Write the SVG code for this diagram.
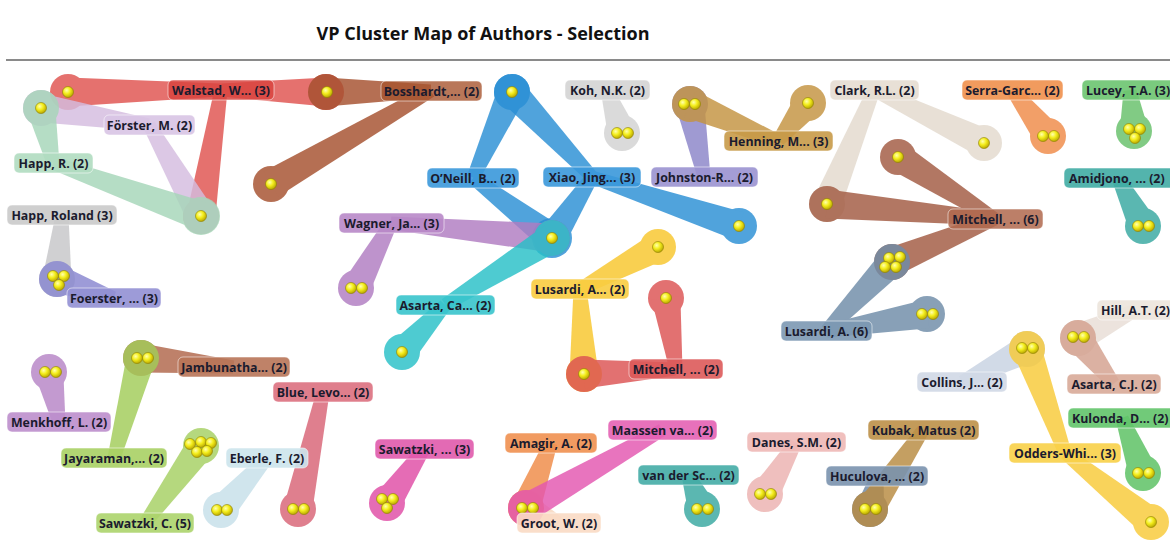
<svg xmlns="http://www.w3.org/2000/svg" width="1170" height="548" viewBox="0 0 1170 548">
<defs>
<style>
.lt{font-family:"Open Sans","Liberation Sans",sans-serif;font-weight:700;font-size:12.4px;fill:#1b1b2e;text-anchor:middle}
.ls{text-anchor:start}
.lr{stroke:#ffffff;stroke-opacity:.55;stroke-width:1}
.cl{opacity:.82}
.dot{fill:url(#yg);stroke:#8d7f00;stroke-width:.6}
.title{font-family:"Open Sans","Liberation Sans",sans-serif;font-weight:700;font-size:18px;fill:#111;text-anchor:middle}
</style>
<radialGradient id="yg" cx=".38" cy=".35" r=".7">
<stop offset="0" stop-color="#ffffb0"/>
<stop offset=".45" stop-color="#f4ee1c"/>
<stop offset="1" stop-color="#b4a000"/>
</radialGradient>
<polygon id="b" points="0,-14.5 1,-6.5 1,6.5 0,14.5"/>
</defs>
<rect width="1170" height="548" fill="#ffffff"/>
<text class="title" x="483" y="40">VP Cluster Map of Authors - Selection</text>
<line x1="6" y1="60" x2="1170" y2="60" stroke="#8a8a8a" stroke-width="2"/>

<g id="connectors">
<g class="cl" fill="#e0534f"><circle cx="68" cy="92" r="18"/><circle cx="326" cy="92" r="18"/><circle cx="201" cy="216" r="18"/>
<use href="#b" transform="translate(68 92) rotate(-0.75) scale(153 1)"/><use href="#b" transform="translate(326 92) rotate(181.1) scale(105 1)"/><use href="#b" transform="translate(201 216) rotate(-81) scale(128 1)"/></g>
<g class="cl" fill="#a5502e"><circle cx="326" cy="92" r="18"/><circle cx="271" cy="184" r="18"/>
<use href="#b" transform="translate(326 92) rotate(-0.5) scale(105 1)"/><use href="#b" transform="translate(271 184) rotate(-30.2) scale(185 1)"/></g>
<g class="cl" fill="#d5bde0"><circle cx="41" cy="108" r="18"/><circle cx="201" cy="216" r="18"/>
<use href="#b" transform="translate(41 108) rotate(8.9) scale(109 1)"/><use href="#b" transform="translate(201 216) rotate(-119.7) scale(105 1)"/></g>
<g class="cl" fill="#a6d6b9"><circle cx="41" cy="108" r="18"/><circle cx="201" cy="216" r="19"/>
<use href="#b" transform="translate(41 108) rotate(77.7) scale(56 1)"/><use href="#b" transform="translate(201 216) rotate(-160.3) scale(157 1)"/></g>
<g class="cl" fill="#2a8fd5"><circle cx="512" cy="92" r="18"/><circle cx="552" cy="238" r="18"/>
<use href="#b" transform="translate(512 92) rotate(114.4) scale(94 1)"/><use href="#b" transform="translate(552 238) rotate(-142.8) scale(99 1)"/></g>
<g class="cl" fill="#2a8fd5"><circle cx="512" cy="92" r="18"/><circle cx="552" cy="238" r="20"/><circle cx="739" cy="226" r="18"/>
<use href="#b" transform="translate(512 92) rotate(46.7) scale(117 1)"/><use href="#b" transform="translate(552 238) rotate(-56.7) scale(73 1)"/><use href="#b" transform="translate(739 226) rotate(-161.6) scale(155 1)"/></g>
<g class="cl" fill="#b07cc2"><circle cx="356" cy="288" r="18"/><circle cx="552" cy="238" r="18"/>
<use href="#b" transform="translate(356 288) rotate(-61.7) scale(74 1)"/><use href="#b" transform="translate(552 238) rotate(-174.7) scale(162 1)"/></g>
<g class="cl" fill="#28c0c8"><circle cx="402" cy="352" r="18"/><circle cx="552" cy="238" r="18"/>
<use href="#b" transform="translate(402 352) rotate(-47.5) scale(64 1)"/><use href="#b" transform="translate(552 238) rotate(148) scale(126 1)"/></g>
<g class="cl" fill="#d2d2d2"><circle cx="622" cy="133" r="18"/>
<use href="#b" transform="translate(622 133) rotate(-109.2) scale(45 1)"/></g>
<g class="cl" fill="#8b84c9"><circle cx="690" cy="104" r="18"/>
<use href="#b" transform="translate(690 104) rotate(79.1) scale(74 1)"/></g>
<g class="cl" fill="#c49340"><circle cx="690" cy="104" r="18"/><circle cx="808" cy="103" r="18"/>
<use href="#b" transform="translate(690 104) rotate(22.8) scale(95 1)"/><use href="#b" transform="translate(808 103) rotate(128.3) scale(48 1)"/></g>
<g class="cl" fill="#e3dace"><circle cx="984" cy="143" r="18"/><circle cx="827" cy="204" r="18"/>
<use href="#b" transform="translate(984 143) rotate(-154.3) scale(122 1)"/><use href="#b" transform="translate(827 204) rotate(-67.6) scale(123 1)"/></g>
<g class="cl" fill="#a25a42"><circle cx="898" cy="157" r="18"/><circle cx="827" cy="204" r="18"/><circle cx="892" cy="262" r="18"/>
<use href="#b" transform="translate(898 157) rotate(32.6) scale(115 1)"/><use href="#b" transform="translate(827 204) rotate(5.1) scale(169 1)"/><use href="#b" transform="translate(892 262) rotate(-22.7) scale(112 1)"/></g>
<g class="cl" fill="#6e8ca8"><circle cx="892" cy="262" r="18"/><circle cx="927" cy="314" r="18"/>
<use href="#b" transform="translate(892 262) rotate(133.7) scale(95 1)"/><use href="#b" transform="translate(927 314) rotate(170.4) scale(102 1)"/></g>
<g class="cl" fill="#f08a48"><circle cx="1048" cy="136" r="18"/>
<use href="#b" transform="translate(1048 136) rotate(-128) scale(58 1)"/></g>
<g class="cl" fill="#66c06a"><circle cx="1134" cy="131" r="18"/>
<use href="#b" transform="translate(1134 131) rotate(-95.6) scale(41 1)"/></g>
<g class="cl" fill="#36a8a0"><circle cx="1143" cy="226" r="18"/>
<use href="#b" transform="translate(1143 226) rotate(-117.5) scale(54 1)"/></g>
<g class="cl" fill="#c6c6c9"><circle cx="57" cy="279" r="18"/>
<use href="#b" transform="translate(57 279) rotate(-85.5) scale(64 1)"/></g>
<g class="cl" fill="#8886d0"><circle cx="57" cy="279" r="18"/>
<use href="#b" transform="translate(57 279) rotate(18.4) scale(60 1)"/></g>
<g class="cl" fill="#f8c62c"><circle cx="658" cy="247" r="18"/><circle cx="584" cy="374" r="18"/>
<use href="#b" transform="translate(658 247) rotate(151.7) scale(89 1)"/><use href="#b" transform="translate(584 374) rotate(-92.7) scale(85 1)"/></g>
<g class="cl" fill="#dc5252"><circle cx="666" cy="298" r="18"/><circle cx="584" cy="374" r="18"/>
<use href="#b" transform="translate(666 298) rotate(82) scale(72 1)"/><use href="#b" transform="translate(584 374) rotate(-3.1) scale(92 1)"/></g>
<g class="cl" fill="#b684c6"><circle cx="49" cy="372" r="18"/>
<use href="#b" transform="translate(49 372) rotate(78.7) scale(51 1)"/></g>
<g class="cl" fill="#b0664a"><circle cx="141" cy="358" r="18"/>
<use href="#b" transform="translate(141 358) rotate(5.5) scale(93 1)"/></g>
<g class="cl" fill="#a2cc58"><circle cx="141" cy="358" r="18"/>
<use href="#b" transform="translate(141 358) rotate(105.1) scale(104 1)"/></g>
<g class="cl" fill="#a6d062"><circle cx="201" cy="446" r="18"/>
<use href="#b" transform="translate(201 446) rotate(126) scale(95 1)"/></g>
<g class="cl" fill="#c6e0ea"><circle cx="221" cy="510" r="18"/>
<use href="#b" transform="translate(221 510) rotate(-48.5) scale(69 1)"/></g>
<g class="cl" fill="#d86476"><circle cx="298" cy="509" r="18"/>
<use href="#b" transform="translate(298 509) rotate(-77.9) scale(120 1)"/></g>
<g class="cl" fill="#e04ca6"><circle cx="387" cy="503" r="18"/>
<use href="#b" transform="translate(387 503) rotate(-55.6) scale(65 1)"/></g>
<g class="cl" fill="#f8d6bc"><circle cx="526" cy="508" r="18"/>
<use href="#b" transform="translate(526 508) rotate(24.4) scale(36 1)"/></g>
<g class="cl" fill="#f08a46"><circle cx="526" cy="508" r="18"/>
<use href="#b" transform="translate(526 508) rotate(-69) scale(70 1)"/></g>
<g class="cl" fill="#e456b0"><circle cx="526" cy="508" r="18"/>
<use href="#b" transform="translate(526 508) rotate(-29.8) scale(157 1)"/></g>
<g class="cl" fill="#38a8a0"><circle cx="702" cy="509" r="18"/>
<use href="#b" transform="translate(702 509) rotate(-112.4) scale(37 1)"/></g>
<g class="cl" fill="#ecb2b0"><circle cx="765" cy="494" r="18"/>
<use href="#b" transform="translate(765 494) rotate(-59.2) scale(60 1)"/></g>
<g class="cl" fill="#6e88a6"><circle cx="870" cy="509" r="18"/>
<use href="#b" transform="translate(870 509) rotate(-78) scale(34 1)"/></g>
<g class="cl" fill="#b88a40"><circle cx="870" cy="509" r="18"/>
<use href="#b" transform="translate(870 509) rotate(-56.1) scale(95 1)"/></g>
<g class="cl" fill="#c8d2e2"><circle cx="1027" cy="349" r="18"/>
<use href="#b" transform="translate(1027 349) rotate(153.1) scale(73 1)"/></g>
<g class="cl" fill="#f8ca38"><circle cx="1027" cy="349" r="18"/><circle cx="1151" cy="522" r="18"/>
<use href="#b" transform="translate(1027 349) rotate(69.9) scale(111 1)"/><use href="#b" transform="translate(1151 522) rotate(-141.3) scale(110 1)"/></g>
<g class="cl" fill="#e8ded6"><circle cx="1078" cy="338" r="18"/>
<use href="#b" transform="translate(1078 338) rotate(-25.8) scale(64 1)"/></g>
<g class="cl" fill="#d4a08e"><circle cx="1078" cy="338" r="18"/>
<use href="#b" transform="translate(1078 338) rotate(51.9) scale(58 1)"/></g>
<g class="cl" fill="#58c060"><circle cx="1143" cy="473" r="18"/>
<use href="#b" transform="translate(1143 473) rotate(-110.9) scale(59 1)"/></g>
</g>

<g id="documents">
<g id="d1"><circle class="dot" cx="68" cy="92" r="5.5"/></g>
<g id="d2"><circle class="dot" cx="41" cy="108" r="5.5"/></g>
<g id="d3"><circle class="dot" cx="201" cy="216" r="5.5"/></g>
<g id="d4"><circle class="dot" cx="327" cy="92" r="5.5"/></g>
<g id="d5"><circle class="dot" cx="271" cy="184" r="5.5"/></g>
<g id="d6"><circle class="dot" cx="512" cy="92" r="5.5"/></g>
<g id="d7"><circle class="dot" cx="552" cy="238" r="5.5"/></g>
<g id="d8"><circle class="dot" cx="739" cy="226" r="5.5"/></g>
<g id="d9"><circle class="dot" cx="617" cy="133" r="5.5"/><circle class="dot" cx="628" cy="133" r="5.5"/></g>
<g id="d10"><circle class="dot" cx="684" cy="104" r="5.5"/><circle class="dot" cx="695" cy="104" r="5.5"/></g>
<g id="d11"><circle class="dot" cx="808" cy="103" r="5.5"/></g>
<g id="d12"><circle class="dot" cx="984" cy="143" r="5.5"/></g>
<g id="d13"><circle class="dot" cx="898" cy="157" r="5.5"/></g>
<g id="d14"><circle class="dot" cx="827" cy="204" r="5.5"/></g>
<g id="d15"><circle class="dot" cx="889" cy="258" r="5.5"/><circle class="dot" cx="900" cy="257" r="5.5"/><circle class="dot" cx="885" cy="267" r="5.5"/><circle class="dot" cx="896" cy="267" r="5.5"/></g>
<g id="d16"><circle class="dot" cx="922" cy="314" r="5.5"/><circle class="dot" cx="933" cy="314" r="5.5"/></g>
<g id="d17"><circle class="dot" cx="1043" cy="136" r="5.5"/><circle class="dot" cx="1054" cy="136" r="5.5"/></g>
<g id="d18"><circle class="dot" cx="1129" cy="129" r="5.5"/><circle class="dot" cx="1140" cy="129" r="5.5"/><circle class="dot" cx="1135" cy="138" r="5.5"/></g>
<g id="d19"><circle class="dot" cx="1138" cy="226" r="5.5"/><circle class="dot" cx="1149" cy="226" r="5.5"/></g>
<g id="d20"><circle class="dot" cx="53" cy="276" r="5.5"/><circle class="dot" cx="64" cy="276" r="5.5"/><circle class="dot" cx="59" cy="285" r="5.5"/></g>
<g id="d21"><circle class="dot" cx="351" cy="288" r="5.5"/><circle class="dot" cx="362" cy="288" r="5.5"/></g>
<g id="d22"><circle class="dot" cx="402" cy="352" r="5.5"/></g>
<g id="d23"><circle class="dot" cx="658" cy="247" r="5.5"/></g>
<g id="d24"><circle class="dot" cx="666" cy="298" r="5.5"/></g>
<g id="d25"><circle class="dot" cx="584" cy="374" r="5.5"/></g>
<g id="d26"><circle class="dot" cx="45" cy="372" r="5.5"/><circle class="dot" cx="56" cy="372" r="5.5"/></g>
<g id="d27"><circle class="dot" cx="137" cy="358" r="5.5"/><circle class="dot" cx="148" cy="358" r="5.5"/></g>
<g id="d28"><circle class="dot" cx="190" cy="444" r="5.5"/><circle class="dot" cx="201" cy="442" r="5.5"/><circle class="dot" cx="211" cy="443" r="5.5"/><circle class="dot" cx="197" cy="452" r="5.5"/><circle class="dot" cx="207" cy="451" r="5.5"/></g>
<g id="d29"><circle class="dot" cx="217" cy="510" r="5.5"/><circle class="dot" cx="227" cy="510" r="5.5"/></g>
<g id="d30"><circle class="dot" cx="293" cy="509" r="5.5"/><circle class="dot" cx="304" cy="509" r="5.5"/></g>
<g id="d31"><circle class="dot" cx="382" cy="499" r="5.5"/><circle class="dot" cx="393" cy="499" r="5.5"/><circle class="dot" cx="387" cy="508" r="5.5"/></g>
<g id="d32"><circle class="dot" cx="522" cy="508" r="5.5"/><circle class="dot" cx="533" cy="508" r="5.5"/></g>
<g id="d33"><circle class="dot" cx="697" cy="509" r="5.5"/><circle class="dot" cx="708" cy="509" r="5.5"/></g>
<g id="d34"><circle class="dot" cx="760" cy="494" r="5.5"/><circle class="dot" cx="771" cy="494" r="5.5"/></g>
<g id="d35"><circle class="dot" cx="865" cy="509" r="5.5"/><circle class="dot" cx="876" cy="509" r="5.5"/></g>
<g id="d36"><circle class="dot" cx="1022" cy="348" r="5.5"/><circle class="dot" cx="1033" cy="348" r="5.5"/></g>
<g id="d37"><circle class="dot" cx="1073" cy="337" r="5.5"/><circle class="dot" cx="1084" cy="337" r="5.5"/></g>
<g id="d38"><circle class="dot" cx="1138" cy="473" r="5.5"/><circle class="dot" cx="1149" cy="473" r="5.5"/></g>
<g id="d39"><circle class="dot" cx="1151" cy="522" r="5.5"/></g>
</g>

<g id="labels">
<g id="n-walstad"><rect class="lr" x="168" y="80" width="106" height="20" rx="5" fill="#d9443f" fill-opacity=".85"/><text class="lt" x="221" y="94.5">Walstad, W... (3)</text></g>
<g id="n-bosshardt"><rect class="lr" x="381" y="81" width="101" height="20" rx="5" fill="#a8552f" fill-opacity=".8"/><text class="lt" x="431.5" y="95.5">Bosshardt,... (2)</text></g>
<g id="n-koh"><rect class="lr" x="565" y="80" width="85" height="20" rx="5" fill="#d4d4d4" fill-opacity=".9"/><text class="lt" x="607.5" y="94.5">Koh, N.K. (2)</text></g>
<g id="n-clark"><rect class="lr" x="830" y="80" width="89" height="20" rx="5" fill="#e6ddd2" fill-opacity=".9"/><text class="lt" x="874.5" y="94.5">Clark, R.L. (2)</text></g>
<g id="n-serra"><rect class="lr" x="962" y="80" width="101" height="20" rx="5" fill="#f0904c" fill-opacity=".9"/><text class="lt" x="1012.5" y="94.5">Serra-Garc... (2)</text></g>
<g id="n-lucey"><rect class="lr" x="1082" y="80" width="94" height="20" rx="5" fill="#6cc470" fill-opacity=".9"/><text class="lt ls" x="1086" y="94.5">Lucey, T.A. (3)</text></g>
<g id="n-forster"><rect class="lr" x="104" y="115" width="91" height="20" rx="5" fill="#d8c4e4" fill-opacity=".9"/><text class="lt" x="149.5" y="129.5">Förster, M. (2)</text></g>
<g id="n-happr"><rect class="lr" x="14" y="153" width="79" height="20" rx="5" fill="#b0dcc0" fill-opacity=".9"/><text class="lt" x="53.5" y="167.5">Happ, R. (2)</text></g>
<g id="n-henning"><rect class="lr" x="724" y="131" width="109" height="20" rx="5" fill="#c89a48" fill-opacity=".9"/><text class="lt" x="778.5" y="145.5">Henning, M... (3)</text></g>
<g id="n-oneill"><rect class="lr" x="427" y="168" width="92" height="20" rx="5" fill="#3a98da" fill-opacity=".9"/><text class="lt" x="473" y="182.5">O’Neill, B... (2)</text></g>
<g id="n-xiao"><rect class="lr" x="543" y="167" width="98" height="20" rx="5" fill="#3a98da" fill-opacity=".9"/><text class="lt" x="592" y="181.5">Xiao, Jing... (3)</text></g>
<g id="n-johnston"><rect class="lr" x="651" y="167" width="107" height="20" rx="5" fill="#9a92d0" fill-opacity=".9"/><text class="lt" x="704.5" y="181.5">Johnston-R... (2)</text></g>
<g id="n-amidjono"><rect class="lr" x="1064" y="168" width="112" height="20" rx="5" fill="#40aca4" fill-opacity=".9"/><text class="lt ls" x="1069" y="182.5">Amidjono, ... (2)</text></g>
<g id="n-happroland"><rect class="lr" x="7" y="205" width="110" height="20" rx="5" fill="#cacaca" fill-opacity=".9"/><text class="lt" x="62" y="219.5">Happ, Roland (3)</text></g>
<g id="n-wagner"><rect class="lr" x="339" y="213" width="105" height="20" rx="5" fill="#b888c8" fill-opacity=".9"/><text class="lt" x="391.5" y="227.5">Wagner, Ja... (3)</text></g>
<g id="n-mitchell6"><rect class="lr" x="948" y="209" width="95" height="20" rx="5" fill="#b0684e" fill-opacity=".85"/><text class="lt" x="995.5" y="223.5">Mitchell, ... (6)</text></g>
<g id="n-lusardi2"><rect class="lr" x="531" y="279" width="98" height="20" rx="5" fill="#f8cc40" fill-opacity=".9"/><text class="lt" x="580" y="293.5">Lusardi, A... (2)</text></g>
<g id="n-foerster"><rect class="lr" x="67" y="288" width="94" height="20" rx="5" fill="#9290d4" fill-opacity=".9"/><text class="lt" x="114" y="302.5">Foerster, ... (3)</text></g>
<g id="n-asartaca"><rect class="lr" x="396" y="295" width="99" height="20" rx="5" fill="#38c4cc" fill-opacity=".9"/><text class="lt" x="445.5" y="309.5">Asarta, Ca... (2)</text></g>
<g id="n-lusardi6"><rect class="lr" x="781" y="321" width="91" height="20" rx="5" fill="#7c98b2" fill-opacity=".9"/><text class="lt" x="826.5" y="335.5">Lusardi, A. (6)</text></g>
<g id="n-hill"><rect class="lr" x="1097" y="300" width="79" height="20" rx="5" fill="#ece4dc" fill-opacity=".9"/><text class="lt ls" x="1101" y="314.5">Hill, A.T. (2)</text></g>
<g id="n-jambunatha"><rect class="lr" x="178" y="357" width="112" height="20" rx="5" fill="#b87458" fill-opacity=".9"/><text class="lt" x="234" y="371.5">Jambunatha... (2)</text></g>
<g id="n-bluelevo"><rect class="lr" x="273" y="382" width="100" height="20" rx="5" fill="#dc7080" fill-opacity=".9"/><text class="lt" x="323" y="396.5">Blue, Levo... (2)</text></g>
<g id="n-mitchell2"><rect class="lr" x="629" y="359" width="94" height="20" rx="5" fill="#dd5a5a" fill-opacity=".9"/><text class="lt" x="676" y="373.5">Mitchell, ... (2)</text></g>
<g id="n-collins"><rect class="lr" x="917" y="372" width="90" height="20" rx="5" fill="#d0d8e6" fill-opacity=".9"/><text class="lt" x="962" y="386.5">Collins, J... (2)</text></g>
<g id="n-asartacj"><rect class="lr" x="1067" y="374" width="94" height="20" rx="5" fill="#d8aa98" fill-opacity=".9"/><text class="lt" x="1114" y="388.5">Asarta, C.J. (2)</text></g>
<g id="n-menkhoff"><rect class="lr" x="7" y="412" width="104" height="20" rx="5" fill="#bc8ecc" fill-opacity=".9"/><text class="lt" x="59" y="426.5">Menkhoff, L. (2)</text></g>
<g id="n-kulonda"><rect class="lr" x="1068" y="408" width="108" height="20" rx="5" fill="#62c46a" fill-opacity=".9"/><text class="lt ls" x="1072" y="422.5">Kulonda, D... (2)</text></g>
<g id="n-kubak"><rect class="lr" x="868" y="420" width="111" height="20" rx="5" fill="#bc9048" fill-opacity=".9"/><text class="lt" x="923.5" y="434.5">Kubak, Matus (2)</text></g>
<g id="n-sawatzki3"><rect class="lr" x="375" y="439" width="99" height="20" rx="5" fill="#e05aac" fill-opacity=".9"/><text class="lt" x="424.5" y="453.5">Sawatzki, ... (3)</text></g>
<g id="n-amagir"><rect class="lr" x="505" y="433" width="92" height="20" rx="5" fill="#f09050" fill-opacity=".9"/><text class="lt" x="551" y="447.5">Amagir, A. (2)</text></g>
<g id="n-maassen"><rect class="lr" x="608" y="420" width="109" height="20" rx="5" fill="#e462b4" fill-opacity=".9"/><text class="lt" x="662.5" y="434.5">Maassen va... (2)</text></g>
<g id="n-danes"><rect class="lr" x="747" y="432" width="99" height="20" rx="5" fill="#eeb8b6" fill-opacity=".9"/><text class="lt" x="796.5" y="446.5">Danes, S.M. (2)</text></g>
<g id="n-eberle"><rect class="lr" x="226" y="448" width="82" height="20" rx="5" fill="#cce4ec" fill-opacity=".9"/><text class="lt" x="267" y="462.5">Eberle, F. (2)</text></g>
<g id="n-jayaraman"><rect class="lr" x="61" y="448" width="106" height="20" rx="5" fill="#a8d064" fill-opacity=".9"/><text class="lt" x="114" y="462.5">Jayaraman,... (2)</text></g>
<g id="n-odders"><rect class="lr" x="1009" y="443" width="112" height="20" rx="5" fill="#f8d048" fill-opacity=".9"/><text class="lt" x="1065" y="457.5">Odders-Whi... (3)</text></g>
<g id="n-vandersc"><rect class="lr" x="638" y="465" width="101" height="20" rx="5" fill="#44aca6" fill-opacity=".9"/><text class="lt" x="688.5" y="479.5">van der Sc... (2)</text></g>
<g id="n-huculova"><rect class="lr" x="826" y="466" width="102" height="20" rx="5" fill="#7a92ae" fill-opacity=".9"/><text class="lt" x="877" y="480.5">Huculova, ... (2)</text></g>
<g id="n-sawatzkic"><rect class="lr" x="96" y="513" width="98" height="20" rx="5" fill="#acd46c" fill-opacity=".9"/><text class="lt" x="145" y="527.5">Sawatzki, C. (5)</text></g>
<g id="n-groot"><rect class="lr" x="517" y="513" width="84" height="20" rx="5" fill="#fadac4" fill-opacity=".9"/><text class="lt" x="559" y="527.5">Groot, W. (2)</text></g>
</g>
</svg>
